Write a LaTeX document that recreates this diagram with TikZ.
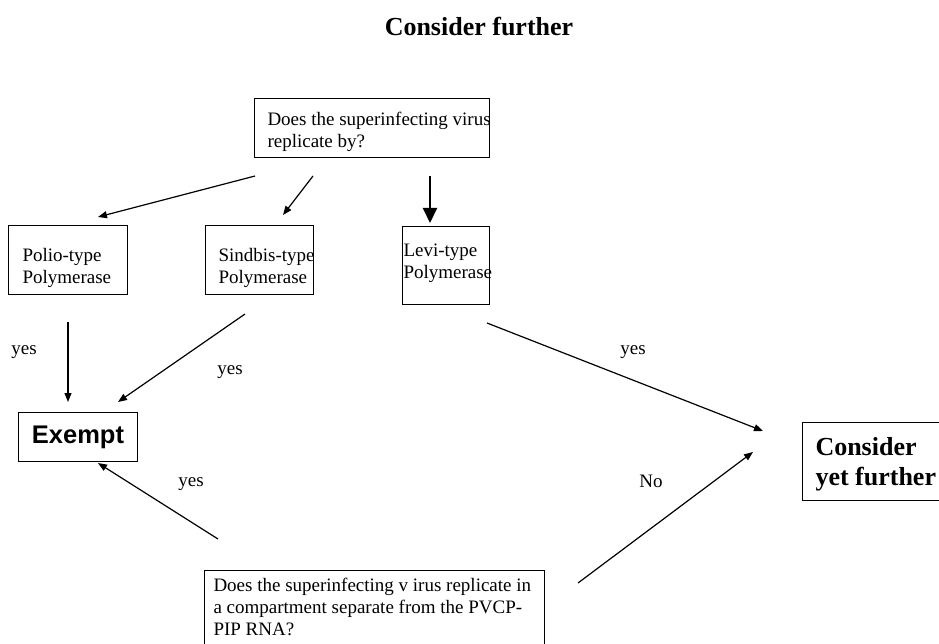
\documentclass[tikz,border=0pt]{standalone}
\usepackage{fontspec}
\setmainfont{Liberation Serif}
\newfontfamily\exemptfont{Liberation Sans}
\usetikzlibrary{positioning,arrows.meta}

\begin{document}
\begin{tikzpicture}[x=1pt,y=-1pt,line width=1pt,
  every node/.style={inner sep=0pt,font=\fontsize{19}{22}\selectfont},
  box/.style={draw,rectangle,anchor=north west},
  boxtext/.style={anchor=north west,align=left},
  bigtext/.style={font=\fontsize{26}{30}\selectfont\bfseries},
  flow/.style={-{Triangle[length=9pt,width=7pt]},line width=1.2pt},
  bigflow/.style={-{Triangle[length=15pt,width=14pt]},line width=2pt}]
\useasboundingbox (0,0) rectangle (939,644);
\node[bigtext] (title) at (479,27) {Consider further};

% boxes
\node[box,minimum width=235pt,minimum height=59pt] (query) at (254,98) {};
\node[boxtext] (querytext) at (267,112) {Does the superinfecting virus\\replicate by?};
\node[box,minimum width=119pt,minimum height=69pt] (polio) at (8,225) {};
\node[boxtext] (poliotext) at (22,248) {Polio-type\\Polymerase};
\node[box,minimum width=108pt,minimum height=69pt] (sindbis) at (205,225) {};
\node[boxtext] (sindbistext) at (218,248) {Sindbis-type\\Polymerase};
\node[box,minimum width=87pt,minimum height=78pt] (levi) at (402,226) {};
\node[boxtext] (levitext) at (403,243) {Levi-type\\Polymerase};
\node[box,minimum width=119pt,minimum height=49pt,
  font=\exemptfont\bfseries\fontsize{25.5}{28}\selectfont] (exempt) at (18,412) {Exempt};
\node[box,minimum width=170pt,minimum height=78pt] (yetbox) at (802,422) {};
\node[boxtext,bigtext] (yettext) at (815,437) {Consider\\yet further};
\node[box,minimum width=340pt,minimum height=90pt] (separate) at (204,570) {};
\node[boxtext] (separatetext) at (213,578) {Does the superinfecting v irus replicate in\\a compartment separate from the PVCP-\\PIP RNA?};

% arrow ends
\coordinate (q1) at (255,176); \coordinate (p1) at (98,217);
\coordinate (q2) at (313,176); \coordinate (s1) at (283,215);
\coordinate (q3) at (430,176); \coordinate (l1) at (430,223);
\coordinate (p2) at (68,322);  \coordinate (e1) at (68,402);
\coordinate (s2) at (245,314); \coordinate (e2) at (118,402);
\coordinate (l2) at (487,323); \coordinate (y1) at (763,431);
\coordinate (b1) at (218,539); \coordinate (e3) at (98,463);
\coordinate (b2) at (578,583); \coordinate (y2) at (753,452);

\draw[flow] (q1) -- (p1);
\draw[flow] (q2) -- (s1);
\draw[bigflow] (q3) -- (l1);
\draw[flow] (p2) -- (e1);
\draw[flow] (s2) -- (e2);
\draw[flow] (l2) -- (y1);
\draw[flow] (b1) -- (e3);
\draw[flow] (b2) -- (y2);

% labels
\node (yes1) at (24,352) {yes};
\node (yes2) at (230,372) {yes};
\node (yes3) at (633,352) {yes};
\node (yes4) at (191,484) {yes};
\node (no1) at (651,481) {No};
\end{tikzpicture}
\end{document}
